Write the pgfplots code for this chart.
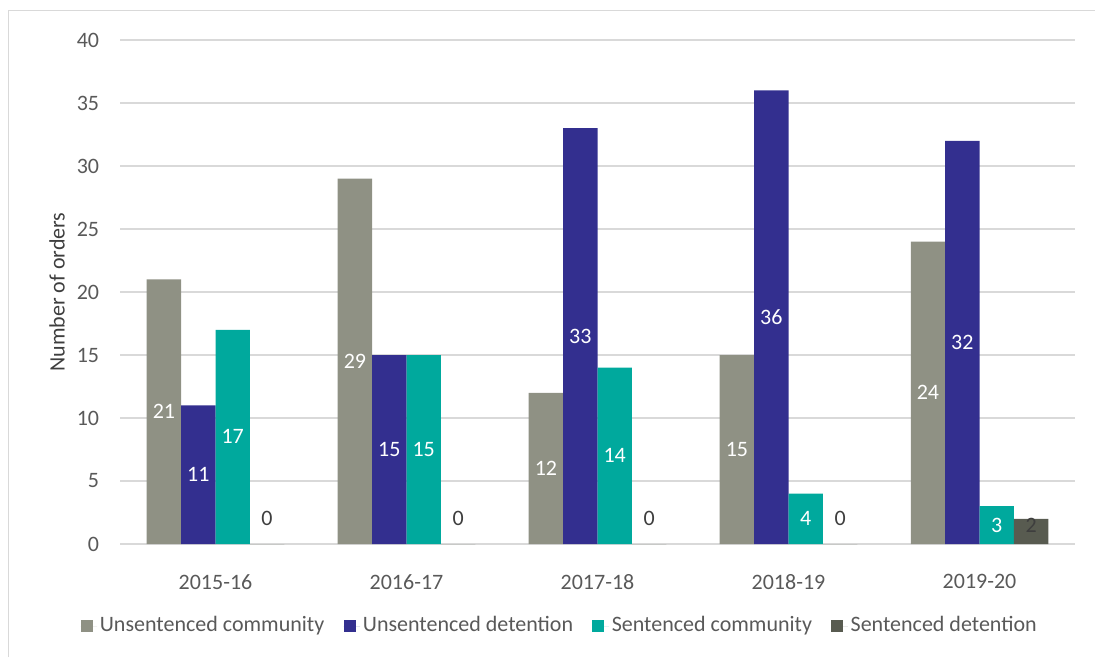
\documentclass[border=0pt]{standalone}
\usepackage{pgfplots}
\pgfplotsset{compat=1.18}
\usepackage{fontspec}
\setmainfont{Carlito}
\definecolor{c1}{HTML}{8F9184}
\definecolor{c2}{HTML}{332F8F}
\definecolor{c3}{HTML}{00A99D}
\definecolor{c4}{HTML}{585B50}
\definecolor{txt}{HTML}{595959}
\definecolor{gridc}{HTML}{D9D9D9}
\begin{document}
\fontsize{16.5}{20}\selectfont
\begin{tikzpicture}
\useasboundingbox (0pt,0pt) rectangle (821.25pt,492.75pt);
\draw[gridc, line width=0.75pt] (6pt,0pt) -- (6pt,484.5pt) -- (821.25pt,484.5pt);
\begin{axis}[
  at={(90pt,84.75pt)}, anchor=south west,
  scale only axis, width=716.25pt, height=378pt,
  xmin=-0.5, xmax=4.5, ymin=0, ymax=40,
  ybar=0pt, bar width=0.18,
  axis line style={draw=none}, tick style={draw=none},
  ymajorgrids, grid style={gridc, line width=1.4pt},
  ytick={0,5,...,40},
  xtick={0,1,2,3,4},
  xticklabels={2015-16,2016-17,2017-18,2018-19,2019-20},
  /pgf/number format/assume math mode=true,
  tick label style={font=\fontsize{16.5}{20}\selectfont, text=txt},
  yticklabel style={xshift=-10pt},
  xticklabel style={yshift=-13pt},
  ylabel={Number of orders},
  ylabel style={at={(axis description cs:-0.066,0.5)}, anchor=center, font=\fontsize{16.5}{20}\selectfont, text=txt!70!black},
  legend columns=-1,
  legend style={draw=none, fill=none, at={(0.4607,-0.1627)}, anchor=center,
    font=\fontsize{16.5}{20}\selectfont, text=txt,
    /tikz/every even column/.append style={column sep=12.5pt}},
  legend image code/.code={\fill[#1] (0pt,-4.5pt) rectangle (9pt,4.5pt); \path (0pt,0pt) -- (12.5pt,0pt);},
  nodes near coords,
  visualization depends on={y \as \rawy},
  nodes near coords style={anchor=center, text=white, font=\fontsize{16.5}{20}\selectfont, yshift={-4.725*\rawy}},
]
\addplot[fill=c1, draw=none] coordinates {(0,21) (1,29) (2,12) (3,15) (4,24)};
\addplot[fill=c2, draw=none] coordinates {(0,11) (1,15) (2,33) (3,36) (4,32)};
\addplot[fill=c3, draw=none] coordinates {(0,17) (1,15) (2,14) (3,4) (4,3)};
\addplot[fill=c4, draw=none, nodes near coords style={text=txt!70!black, yshift={19.5-7.35*\rawy}}] coordinates {(0,0) (1,0) (2,0) (3,0) (4,2)};
\legend{Unsentenced community, Unsentenced detention, Sentenced community, Sentenced detention}
\end{axis}
\end{tikzpicture}
\end{document}
